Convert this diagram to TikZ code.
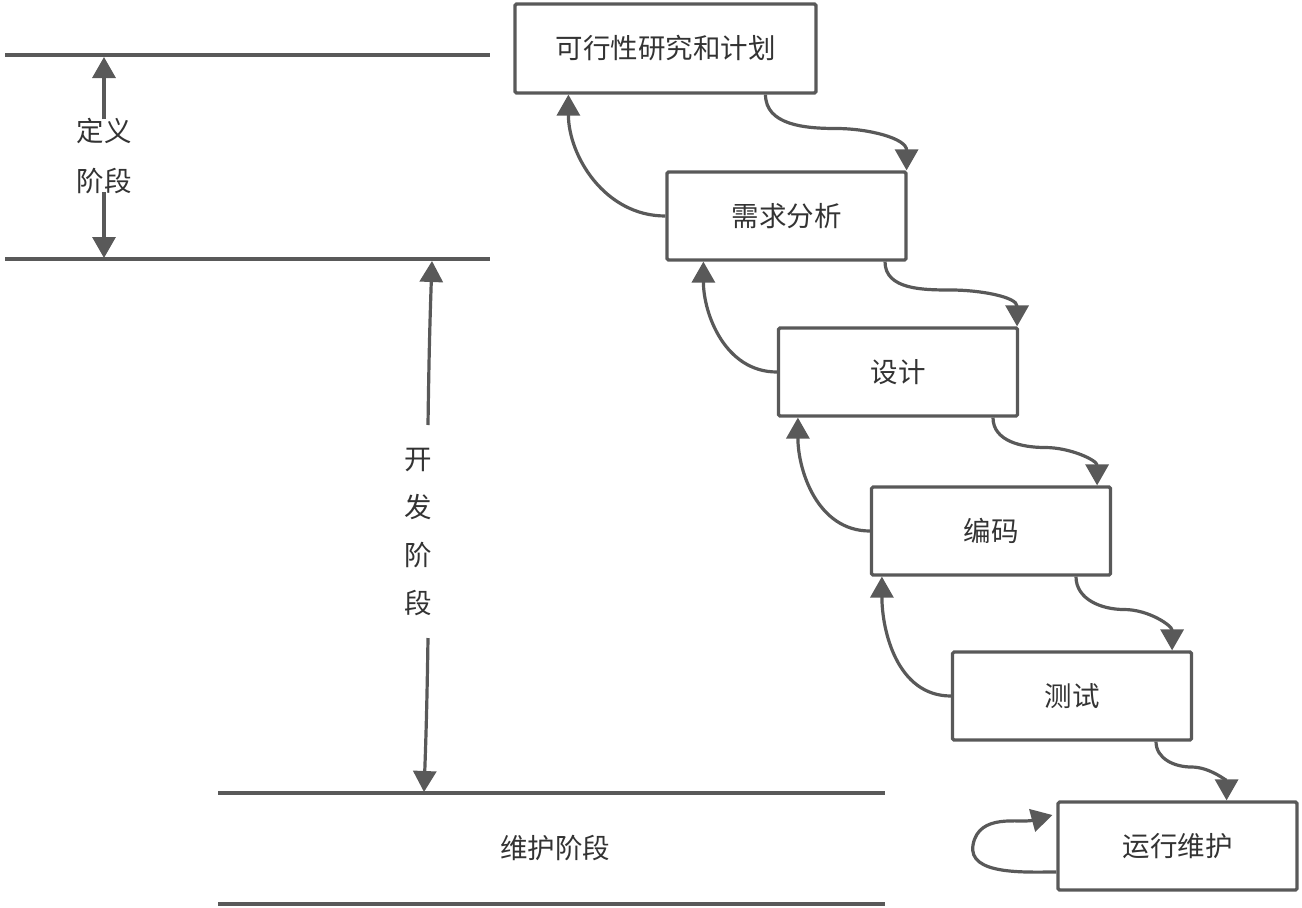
\documentclass[tikz,border=0pt]{standalone}
\usepackage{fontspec}
\setmainfont{Noto Sans CJK SC}
\usetikzlibrary{arrows.meta,calc}
\definecolor{ln}{HTML}{595959}
\definecolor{tx}{HTML}{333333}
\tikzset{
  stage/.style={draw=ln,line width=3.2pt,rounded corners=1.5pt,minimum width=239pt,minimum height=88pt,inner sep=0pt,text=tx,font=\fontsize{27.5}{32}\selectfont},
  lbl/.style={text=tx,font=\fontsize{27.5}{32}\selectfont,inner sep=0pt},
  conn/.style={draw=ln,line width=3.2pt,-{Triangle[length=21pt,width=23pt]}},
  rule/.style={draw=ln,line width=3.2pt}
}
\begin{document}
\begin{tikzpicture}[x=1pt,y=-1pt]
\useasboundingbox (0,0) rectangle (1302,908);
% boxes
\node[stage,minimum width=301pt,minimum height=89pt] (n1) at (665.5,48.5) {可行性研究和计划};
\node[stage] (n2) at (786.5,216) {需求分析};
\node[stage] (n3) at (898,372) {设计};
\node[stage] (n4) at (991,531) {编码};
\node[stage] (n5) at (1072,696) {测试};
\node[stage] (n6) at (1177.5,846) {运行维护};
% horizontal rules
\coordinate (r1a) at (5,55); \coordinate (r1b) at (490,55);
\coordinate (r2a) at (5,259); \coordinate (r2b) at (490,259);
\coordinate (r3a) at (218,793); \coordinate (r3b) at (885,793);
\coordinate (r4a) at (218,904); \coordinate (r4b) at (885,904);
\draw[rule] (r1a) -- (r1b);
\draw[rule] (r2a) -- (r2b);
\draw[rule] (r3a) -- (r3b);
\draw[rule] (r4a) -- (r4b);
% phase labels
\node[lbl] (d1) at (104,131) {定义};
\node[lbl] (d2) at (104,181) {阶段};
\node[lbl] (k1) at (418,460) {开};
\node[lbl] (k2) at (418,507) {发};
\node[lbl] (k3) at (418,555) {阶};
\node[lbl] (k4) at (418,603) {段};
\node[lbl] (w) at (555,848) {维护阶段};
% phase arrows
\coordinate (da) at (104,119); \coordinate (dat) at (104,57);
\coordinate (db) at (104,192); \coordinate (dbt) at (104,258);
\draw[conn] (da) -- (dat);
\draw[conn] (db) -- (dbt);
\coordinate (ka) at (428,425); \coordinate (kat) at (432,261);
\coordinate (kb) at (428,638); \coordinate (kbt) at (424,792);
\draw[conn] (ka) to[bend left=0.6] (kat);
\draw[conn] (kb) to[bend left=0.6] (kbt);
% forward arrows
\coordinate (f1a) at ([xshift=100pt]n1.south); \coordinate (f1b) at ([xshift=-1pt]n2.north east);
\coordinate (f2a) at ([xshift=98.5pt]n2.south); \coordinate (f2b) at ([xshift=-2pt]n3.north east);
\coordinate (f3a) at ([xshift=95pt]n3.south); \coordinate (f3b) at ([xshift=-15pt]n4.north east);
\coordinate (f4a) at ([xshift=85pt]n4.south); \coordinate (f4b) at ([xshift=-21pt]n5.north east);
\coordinate (f5a) at ([xshift=84pt]n5.south); \coordinate (f5b) at ([xshift=-72pt]n6.north east);
\foreach \i in {1,...,5}{
  \draw[conn] (f\i a) to[out=-90,in=180] ($(f\i a)!0.5!(f\i b)+(0,-4)$) to[out=0,in=90] (f\i b);
}
% backward arrows
\draw[conn] (n2.west) to[out=180,in=-90] ([xshift=55pt]n1.south west);
\draw[conn] (n3.west) to[out=180,in=-90] ([xshift=38pt]n2.south west);
\draw[conn] (n4.west) to[out=180,in=-90] ([xshift=21pt]n3.south west);
\draw[conn] (n5.west) to[out=180,in=-90] ([xshift=12pt]n4.south west);
% self loop
\coordinate (lp) at (973,845);
\draw[conn] ([yshift=-26pt]n6.west) to[out=180,in=-100,looseness=0.9] (lp) to[out=80,in=195] ([xshift=-4pt,yshift=31pt]n6.west);
\end{tikzpicture}
\end{document}
